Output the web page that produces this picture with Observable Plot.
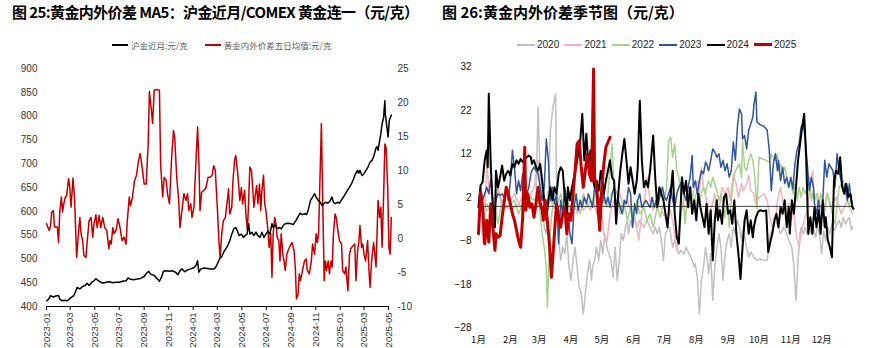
<!DOCTYPE html>
<html><head><meta charset="utf-8">
<script src="https://cdn.jsdelivr.net/npm/d3@7"></script>
<script src="https://cdn.jsdelivr.net/npm/@observablehq/plot@0.6"></script>
<style>
body{margin:0;background:#fff;}
#wrap{position:relative;width:886px;height:348px;background:#fff;overflow:hidden;}
.title{position:absolute;top:4px;font-family:"Noto Sans CJK SC","Noto Sans",sans-serif;font-weight:700;font-size:15px;line-height:16px;color:#000;white-space:nowrap;}
.leg{position:absolute;display:flex;align-items:center;white-space:nowrap;}
.leg .it{display:flex;align-items:center;}
.leg .sw{display:inline-block;height:2px;}
#leg1{left:112px;top:39px;font-family:"Noto Sans CJK SC",sans-serif;font-size:8.5px;color:#595959;}
#leg1 .sw{width:16px;margin-right:3px;}
#leg1 .it{margin-right:17px;}
#leg2{left:517px;top:39px;font-family:"Liberation Sans Narrow","Arial Narrow","Liberation Sans",sans-serif;font-size:10px;color:#222;}
#leg2 .it{width:47.4px;}
#leg2 .sw{width:18px;margin-right:2px;}
.chart{position:absolute;top:55px;}
.chart svg{font-family:"Liberation Sans Narrow","Arial Narrow","Liberation Sans",sans-serif;}
</style></head>
<body>
<div id="wrap">
  <div class="title" style="left:12px;letter-spacing:-0.6px">图 25:黄金内外价差 MA5：沪金近月/COMEX 黄金连一（元/克）</div>
  <div class="title" style="left:442px">图 26:黄金内外价差季节图（元/克）</div>
  <div id="leg1" class="leg"></div>
  <div id="leg2" class="leg"></div>
  <div id="c1" class="chart" style="left:0"></div>
  <div id="c2" class="chart" style="left:443px"></div>
</div>
<script>
// ---------- Left chart data: [days since 2023-01-01, value] ----------
const shfeGold = [[0,412],[5,415],[10,423],[17,420],[23,422],[30,423],[33,416],[38,412],[45,413],[52,412],[60,418],[68,423],[73,433],[76,440],[83,437],[90,442],[96,444],[101,449],[106,444],[113,451],[118,454],[123,458],[131,453],[140,449],[148,451],[156,452],[165,450],[173,451],[181,451],[189,453],[198,454],[203,460],[209,457],[218,456],[226,458],[234,459],[243,463],[249,470],[254,474],[259,468],[268,465],[276,458],[281,453],[286,461],[291,474],[298,475],[306,474],[314,475],[321,472],[327,467],[332,475],[337,479],[344,473],[351,477],[359,479],[367,482],[372,486],[376,496],[379,472],[384,479],[392,481],[401,480],[409,479],[417,479],[422,484],[427,493],[432,502],[436,505],[441,514],[446,521],[451,528],[456,538],[461,552],[466,563],[471,566],[475,559],[479,549],[485,552],[490,545],[494,549],[499,552],[503,574],[506,552],[511,556],[516,549],[521,556],[526,549],[531,545],[536,556],[541,545],[546,552],[551,559],[556,552],[561,574],[564,566],[569,572],[574,563],[579,566],[584,563],[589,570],[594,574],[601,575],[608,574],[614,572],[621,581],[626,589],[631,596],[636,593],[643,595],[647,593],[652,605],[657,623],[662,630],[667,637],[671,630],[676,623],[681,619],[686,612],[690,616],[695,619],[700,617],[705,621],[710,630],[714,619],[719,616],[724,619],[729,617],[734,624],[739,630],[744,637],[749,644],[754,651],[759,658],[764,668],[769,679],[774,686],[777,680],[780,686],[785,675],[790,679],[795,686],[800,693],[805,703],[810,707],[815,717],[819,731],[822,736],[825,728],[829,749],[832,763],[835,784],[839,798],[840,812],[842,832],[843,805],[847,777],[850,756],[853,791],[858,802]];
const spreadMA5 = [[0,2.2],[3,1.7],[7,1.2],[10,1.9],[13,3.9],[17,4.1],[20,1.7],[27,1.7],[30,-0.6],[33,3.9],[37,6.1],[40,3.9],[43,5.1],[47,6.1],[50,6.3],[55,8.8],[58,7.5],[61,4.6],[66,8.9],[70,5.6],[75,-2.8],[78,-0.3],[83,3.1],[86,0.7],[90,-0.3],[93,-2.5],[98,-2.8],[101,-0.6],[106,2.6],[111,3.1],[115,0.2],[118,2.1],[123,3.5],[126,1.6],[131,3.4],[135,1.6],[140,3.1],[145,1.6],[150,1.2],[155,-1.5],[158,-0.3],[161,-0.8],[165,1.6],[168,0.7],[173,1.2],[178,2.9],[183,1.6],[188,-0.3],[193,0.2],[198,-0.8],[201,2.6],[206,6.1],[209,4.8],[214,6.1],[219,8.5],[224,9.3],[229,11.5],[233,12.5],[238,10.5],[243,8.0],[248,8.0],[253,13.9],[256,21.6],[261,18.9],[264,16.9],[268,21.8],[273,21.9],[281,21.8],[284,11.0],[289,6.1],[293,9.0],[298,8.5],[301,6.6],[306,5.1],[311,11.5],[316,15.9],[319,14.9],[324,9.0],[329,5.6],[332,1.6],[337,4.1],[342,6.6],[347,5.6],[351,6.6],[354,4.1],[359,5.1],[362,3.1],[367,4.6],[372,11.5],[376,16.4],[379,11.5],[382,4.1],[386,6.8],[392,7.1],[397,7.5],[402,9.0],[407,9.0],[412,9.3],[416,10.7],[420,10.0],[425,4.6],[429,-0.3],[432,-2.8],[436,0.7],[440,2.6],[445,3.1],[450,5.6],[453,7.3],[456,3.6],[461,4.6],[464,8.5],[468,11.5],[471,12.2],[475,10.0],[478,8.0],[481,5.6],[485,7.5],[488,5.1],[493,7.1],[496,3.6],[500,1.2],[503,5.6],[506,10.5],[510,10.0],[513,7.5],[516,4.6],[520,6.6],[523,7.8],[526,5.1],[530,8.0],[533,4.1],[536,7.1],[540,9.3],[543,5.1],[546,4.1],[551,1.2],[554,-1.3],[558,0.7],[561,-5.7],[564,0.7],[568,3.1],[571,2.1],[574,0.2],[578,-0.3],[581,-3.3],[584,0.7],[588,-2.3],[591,-3.3],[594,-4.7],[598,-2.3],[601,-1.8],[606,-1.1],[611,-0.6],[616,-1.8],[619,-4.2],[622,-8.9],[626,-8.2],[629,-5.2],[632,-6.2],[637,-4.7],[642,-3.3],[646,-3.0],[649,-4.7],[654,-5.2],[659,-3.3],[662,-0.8],[667,-2.3],[671,0.7],[674,-0.6],[677,0.7],[681,10.0],[684,16.9],[687,6.6],[691,-6.2],[694,-3.3],[697,-4.7],[701,-3.3],[704,-5.2],[708,-3.3],[711,-4.2],[714,0.7],[718,3.6],[721,3.1],[724,1.6],[729,-0.3],[734,-0.8],[737,-4.7],[742,-5.2],[745,-4.2],[750,-7.7],[754,-2.3],[757,-1.5],[762,-1.1],[767,-0.8],[770,-6.2],[774,-1.8],[777,-0.6],[780,1.9],[784,-1.3],[787,-0.8],[790,-2.3],[794,-3.3],[799,-0.3],[802,-4.2],[805,-7.2],[809,-3.3],[814,-0.6],[817,-2.3],[820,-4.2],[825,5.6],[829,3.1],[832,4.6],[835,-1.3],[839,6.6],[842,13.9],[845,13.4],[849,7.5],[852,-1.3],[855,-2.3],[858,3.1]];
const leftTicks = [400,450,500,550,600,650,700,750,800,850,900];
const rightTicks = [-10,-5,0,5,10,15,20,25];
const legend1 = [["沪金近月:元/克","#000000"],["黄金内外价差五日均值:元/克","#c00000"]];

// ---------- Right chart data: [day of year, value] ----------
const s2020 = [[0,-0.2],[4,1.4],[8,-0.9],[12,-0.2],[16,0.6],[19,4.4],[23,-0.2],[27,-0.2],[31,-0.6],[35,-0.2],[39,0.6],[43,-0.2],[47,-0.2],[51,0.6],[54,-0.9],[56,2.9],[58,22.8],[60,6.7],[62,0.6],[64,-4.8],[66,-6.3],[68,4.4],[70,17.5],[72,22.0],[73,23.6],[75,25.9],[76,4.4],[78,-7.8],[80,-12.4],[82,-9.4],[84,-10.9],[86,-6.3],[88,-13.9],[90,-17.0],[92,-12.4],[94,-9.4],[96,-13.9],[98,-18.6],[100,-20.1],[102,-24.7],[104,-20.1],[106,-15.5],[108,-12.4],[110,-17.0],[111,-13.9],[113,-12.4],[115,-9.4],[117,-12.4],[119,-7.8],[121,-10.9],[123,-6.3],[125,-9.4],[127,-10.9],[129,-12.4],[131,-16.3],[133,-9.4],[135,-17.0],[137,-12.4],[139,-6.3],[141,-7.8],[143,-4.8],[145,-3.2],[146,-6.3],[148,-3.2],[150,-4.8],[152,-2.5],[154,-4.8],[157,-3.2],[161,-4.8],[164,-3.2],[167,-4.8],[170,-6.3],[172,-4.8],[174,-6.3],[176,-4.8],[178,-7.8],[180,-12.4],[182,-6.3],[184,-5.2],[186,-4.8],[187,-6.3],[189,-9.4],[191,-7.8],[193,-9.4],[195,-10.9],[197,-10.1],[200,-10.9],[202,-9.4],[205,-10.9],[208,-12.4],[210,-13.9],[211,-13.2],[213,-16.3],[215,-24.7],[217,-17.0],[219,-13.9],[221,-9.4],[222,-10.9],[224,-15.5],[226,-10.9],[228,-21.6],[230,-13.9],[232,-9.4],[234,-6.3],[236,-9.4],[238,-17.0],[240,-10.9],[242,-7.8],[244,-6.3],[246,-9.4],[248,-4.8],[250,-6.3],[252,-3.2],[254,-4.8],[256,-7.8],[257,-5.5],[259,-7.1],[261,-9.4],[263,-11.7],[265,-10.5],[268,-11.7],[271,-12.4],[274,-12.1],[278,-12.4],[281,-12.4],[284,-6.3],[287,-4.8],[289,-3.2],[292,-4.8],[294,-6.3],[297,-4.8],[300,-6.3],[302,-7.8],[305,-9.4],[307,-13.9],[309,-21.6],[311,-12.4],[313,-6.3],[314,-4.8],[316,-6.3],[318,-4.8],[320,-6.3],[322,-4.8],[324,-6.3],[326,-4.8],[328,-7.1],[330,-4.8],[332,-6.3],[334,-10.9],[336,-5.5],[338,-7.8],[340,-4.8],[342,-6.3],[344,-4.0],[346,-5.5],[348,-4.8],[349,-4.0],[351,-3.2],[353,-4.8],[355,-2.5],[357,-4.0],[359,-3.2],[361,-2.5],[363,-5.5],[364,-4.8]];
const s2021 = [[0,-4.8],[2,1.4],[4,-8.2],[6,-2.5],[8,10.6],[10,4.4],[12,2.9],[16,1.4],[19,3.6],[23,1.4],[27,-0.2],[31,1.4],[35,2.9],[39,0.6],[43,2.1],[47,-0.2],[51,2.9],[54,4.4],[58,10.6],[60,9.0],[62,4.4],[64,1.4],[67,-0.2],[70,1.4],[73,-0.2],[76,-0.9],[80,0.6],[83,-1.7],[86,1.4],[89,-0.2],[93,0.6],[96,-1.7],[99,1.4],[102,-0.9],[106,0.6],[109,-0.9],[112,1.4],[115,-1.7],[119,0.6],[122,-6.3],[125,-8.2],[128,-1.7],[132,1.4],[135,-0.2],[138,2.9],[141,-0.2],[145,1.4],[148,-0.9],[151,-2.5],[154,-4.8],[156,-7.8],[158,-3.2],[161,0.6],[164,6.7],[167,1.4],[170,-0.9],[174,1.4],[177,-0.2],[180,-1.7],[184,-3.2],[187,-0.9],[190,-4.8],[193,-10.1],[195,-6.3],[197,-2.5],[200,2.9],[202,1.4],[205,4.4],[208,0.6],[210,4.4],[213,5.9],[215,2.9],[217,9.0],[219,4.4],[222,1.4],[224,-2.5],[227,-0.2],[230,2.9],[232,-2.5],[235,0.6],[237,4.4],[240,2.9],[243,4.4],[245,1.4],[248,7.5],[250,5.9],[253,2.1],[256,5.2],[258,3.6],[261,5.2],[263,7.1],[265,3.6],[268,2.9],[270,0.6],[273,2.1],[276,2.5],[278,2.9],[281,1.4],[283,-1.7],[286,-4.8],[289,-3.2],[291,1.4],[294,4.4],[296,1.4],[299,-1.7],[302,0.6],[304,-3.2],[307,-0.9],[309,-6.3],[312,-9.4],[314,-6.3],[317,-3.2],[320,-0.9],[322,2.9],[325,8.2],[327,1.4],[330,2.9],[333,-0.2],[335,-1.7],[338,1.4],[340,2.9],[343,-0.2],[346,1.4],[348,2.1],[351,-0.2],[353,-1.7],[356,-0.2],[359,1.4],[361,-0.2],[364,-1.7]];
const s2022 = [[0,1.4],[4,-0.2],[8,0.6],[12,-1.7],[16,-0.2],[19,-4.0],[23,1.4],[27,-0.2],[31,0.6],[35,1.4],[39,-1.7],[43,0.6],[47,-0.2],[51,2.1],[54,1.4],[58,2.9],[60,-1.7],[62,-6.3],[64,-9.4],[66,-13.9],[67,-23.2],[69,-9.4],[71,-2.5],[73,1.4],[76,-0.2],[80,2.9],[83,-0.2],[86,1.4],[89,-0.9],[93,2.9],[96,0.6],[99,-1.7],[102,2.9],[106,-0.2],[109,1.4],[112,0.6],[115,4.4],[119,-0.2],[122,1.4],[125,-0.2],[128,9.0],[130,14.4],[132,4.4],[135,2.9],[138,-1.7],[141,1.4],[145,-3.2],[148,-0.2],[151,-2.5],[154,1.4],[157,-1.7],[161,-0.2],[164,-3.2],[167,-1.7],[170,-4.8],[174,-0.2],[177,-2.5],[180,0.6],[183,4.4],[185,15.1],[187,15.9],[189,11.3],[191,14.4],[193,8.2],[195,6.7],[197,2.9],[199,4.4],[201,-4.0],[203,1.4],[205,2.9],[207,4.4],[209,-0.2],[211,2.1],[213,3.6],[215,0.6],[217,2.9],[219,4.4],[221,2.9],[222,4.4],[224,5.9],[226,4.4],[228,6.7],[230,5.2],[232,3.6],[234,1.4],[236,2.9],[238,0.6],[240,-2.5],[242,1.4],[244,-4.8],[246,1.4],[248,5.9],[250,8.2],[252,9.0],[254,9.8],[256,6.7],[257,15.1],[259,9.0],[261,8.2],[263,10.6],[265,12.1],[267,10.6],[269,6.7],[271,-0.6],[273,11.3],[276,10.9],[280,10.6],[283,10.2],[285,12.1],[287,10.9],[289,10.6],[291,12.1],[292,8.2],[294,9.8],[296,7.5],[298,9.0],[300,6.7],[302,4.4],[304,5.9],[306,2.9],[308,5.2],[310,1.4],[312,4.4],[314,2.1],[316,4.4],[318,2.9],[320,4.4],[322,6.7],[324,1.4],[326,3.6],[327,1.4],[329,2.9],[331,-0.2],[333,2.9],[335,1.4],[337,-0.9],[339,2.9],[341,1.4],[343,-0.2],[345,-2.5],[347,-4.0],[349,0.6],[351,4.4],[353,5.2],[355,5.9],[357,2.9],[359,1.4],[361,-0.2],[362,1.4],[364,0.6]];
const s2023 = [[0,0.6],[2,4.4],[4,1.4],[6,2.9],[8,4.4],[10,2.9],[12,6.3],[14,0.6],[16,-1.7],[17,1.4],[19,2.9],[21,2.5],[23,2.9],[25,2.1],[27,4.4],[29,1.4],[31,5.9],[33,12.9],[35,9.0],[37,2.9],[39,5.9],[41,3.6],[43,7.5],[45,4.4],[47,2.9],[49,4.4],[51,7.5],[52,8.2],[54,9.0],[56,8.2],[58,7.5],[60,4.4],[62,1.4],[64,4.4],[66,15.5],[68,10.6],[70,1.4],[72,4.4],[74,0.6],[76,2.9],[78,-8.6],[80,1.4],[82,-1.7],[84,4.4],[86,1.4],[87,-1.7],[89,-6.3],[91,-8.6],[93,-0.2],[95,2.9],[97,-0.9],[99,1.4],[101,-0.2],[103,2.1],[105,0.6],[107,2.9],[109,1.4],[111,-0.2],[113,4.4],[115,2.9],[117,2.1],[119,-0.2],[121,1.4],[122,2.9],[124,0.6],[126,2.1],[128,-0.2],[130,2.9],[132,4.4],[134,0.6],[136,1.4],[138,-0.2],[140,-1.7],[142,1.4],[144,0.6],[146,4.4],[148,2.9],[150,-4.8],[152,0.6],[154,-1.7],[155,1.4],[157,2.9],[159,-0.2],[161,0.6],[163,1.4],[165,0.6],[167,-0.2],[169,2.1],[171,-0.2],[173,1.4],[175,0.6],[177,2.9],[179,4.4],[181,2.1],[183,1.4],[185,2.9],[187,4.4],[189,1.4],[191,-0.2],[193,2.9],[195,4.4],[197,5.2],[198,5.9],[200,2.9],[202,1.4],[204,4.4],[206,6.7],[208,11.7],[209,4.4],[211,5.9],[213,2.9],[215,5.9],[217,8.2],[219,7.5],[221,10.2],[222,9.8],[224,8.2],[226,10.6],[228,13.2],[230,12.5],[232,11.3],[234,12.1],[236,9.0],[238,10.6],[240,8.2],[242,9.8],[244,6.7],[246,8.2],[248,14.8],[250,10.6],[252,18.2],[254,22.4],[256,21.3],[257,15.5],[259,16.3],[261,13.2],[263,17.5],[265,19.0],[267,20.5],[268,23.2],[270,26.3],[271,19.4],[274,18.8],[278,18.4],[281,17.5],[283,12.9],[285,3.6],[287,9.8],[289,12.1],[291,8.2],[292,10.6],[294,5.9],[296,9.0],[298,5.2],[300,6.7],[302,4.4],[304,6.7],[306,4.0],[308,9.8],[310,12.9],[312,14.4],[314,18.2],[316,19.0],[318,15.9],[320,9.8],[322,3.6],[324,6.7],[326,4.4],[327,0.6],[329,-1.7],[331,1.4],[333,-4.8],[335,0.6],[337,10.6],[339,6.7],[341,9.8],[343,9.0],[345,8.2],[347,4.4],[349,12.1],[351,8.2],[353,5.9],[355,3.6],[357,5.2],[359,1.4],[361,5.2],[362,2.9],[364,-0.2]];
const s2024 = [[0,-0.2],[2,4.8],[4,5.6],[6,10.6],[8,12.9],[9,9.0],[10,25.9],[12,9.0],[14,-0.2],[16,-4.8],[17,8.2],[19,4.4],[21,6.7],[23,9.4],[25,5.9],[27,7.5],[29,8.2],[31,7.1],[33,9.8],[35,9.0],[37,10.6],[39,9.8],[41,10.9],[43,10.2],[45,10.9],[47,11.3],[49,11.7],[51,11.3],[52,9.8],[54,10.6],[56,9.0],[58,8.2],[60,9.8],[62,5.9],[64,1.4],[66,-3.2],[68,1.4],[70,4.4],[72,1.4],[74,4.4],[76,2.9],[78,7.5],[80,9.0],[82,8.2],[84,2.1],[86,-1.7],[87,4.4],[89,1.4],[91,4.4],[93,6.7],[95,9.0],[97,12.1],[99,15.1],[101,21.3],[103,10.6],[105,16.7],[107,9.0],[109,12.9],[111,6.7],[113,4.4],[115,5.9],[117,3.6],[119,8.2],[121,5.2],[122,2.9],[124,5.9],[126,8.2],[128,10.6],[130,6.7],[132,5.9],[134,-4.0],[136,2.9],[138,8.2],[140,12.1],[142,15.5],[144,10.6],[146,5.2],[148,9.0],[150,5.9],[152,2.9],[154,5.9],[155,9.0],[157,24.3],[159,10.6],[161,4.4],[163,5.9],[165,4.4],[167,8.2],[169,13.6],[170,16.3],[172,6.7],[174,-0.2],[176,4.4],[178,2.9],[180,1.4],[182,-1.7],[184,-4.8],[186,1.4],[187,2.9],[189,8.2],[191,-1.7],[193,-7.1],[195,-8.6],[197,1.4],[198,6.7],[200,2.9],[202,5.9],[204,-0.2],[206,4.4],[208,-1.7],[210,1.4],[212,-3.2],[214,2.9],[216,-0.2],[218,-2.5],[220,-4.8],[222,0.6],[224,-6.3],[226,-0.9],[228,-12.4],[230,-3.2],[232,1.4],[233,-3.2],[235,-0.9],[237,-4.0],[239,2.1],[241,2.9],[243,-1.7],[245,-0.9],[247,-4.0],[249,1.4],[251,-6.3],[253,-10.9],[255,-16.7],[257,-9.4],[259,-3.2],[261,-0.9],[263,-6.3],[265,-3.2],[267,-7.1],[268,-4.8],[270,-2.5],[272,-1.3],[274,-0.9],[278,-1.1],[280,-0.9],[282,-10.5],[284,-8.2],[286,-6.3],[288,-3.2],[290,-1.7],[292,-4.8],[294,-0.2],[296,-1.7],[298,1.4],[300,-4.8],[302,-0.2],[303,-6.3],[305,1.4],[307,-1.7],[309,4.4],[311,10.6],[313,14.4],[315,18.2],[317,21.3],[319,10.6],[321,-6.3],[323,-2.5],[325,-6.3],[327,-0.2],[329,-4.8],[331,-0.9],[333,-6.3],[335,1.4],[337,-4.8],[338,-2.5],[340,-7.8],[342,-9.4],[344,-11.7],[346,5.9],[348,8.2],[350,7.5],[352,11.3],[354,4.4],[356,2.9],[358,5.2],[360,2.1],[362,2.9],[364,-0.2],[365,-0.6]];
const s2025 = [[0,-6.3],[2,3.3],[4,-0.2],[6,-8.6],[8,-3.2],[10,-8.2],[12,0.6],[14,-4.8],[16,-10.1],[17,-6.3],[19,-7.1],[21,-6.7],[23,-2.5],[25,1.0],[27,4.4],[29,2.9],[31,0.6],[33,-1.7],[35,-3.2],[37,-5.5],[39,-7.8],[41,-9.4],[43,-2.5],[45,13.6],[46,-0.9],[48,2.9],[50,-0.2],[52,0.6],[54,-2.5],[56,0.6],[58,4.4],[60,0.6],[62,-0.9],[63,-3.2],[65,1.4],[67,-3.2],[69,-8.6],[71,-16.3],[73,-9.4],[75,-2.5],[76,0.6],[78,-2.5],[80,-4.8],[82,-1.7],[84,-0.2],[86,-6.3],[88,-1.7],[90,-3.2],[92,2.9],[94,8.2],[96,14.4],[98,15.1],[100,9.0],[102,4.4],[104,8.2],[106,12.1],[108,7.5],[110,5.9],[111,18.2],[112,31.6],[113,6.7],[115,4.4],[116,0.6],[118,-5.5],[120,4.4],[122,9.8],[124,13.6],[128,15.9]];
const years = ["2020","2021","2022","2023","2024","2025"];
const yearColors = ["#c0c0c0","#f4b4b7","#a9d18e","#2f5597","#000000","#c00000"];
const yearWidths = [1.5,1.5,1.5,1.5,2,3];
const monthLabels = ["1月","2月","3月","4月","5月","6月","7月","8月","9月","10月","11月","12月"];
const monthStartDays = [0,31,59,90,120,151,181,212,243,273,304,334];
const seasonTicks = [-28,-18,-8,2,12,22,32];

// ---------- helpers ----------
const base = Date.UTC(2023,0,1);
const toDate = d => new Date(base + d*86400000);
// right axis (-10..25) mapped onto left axis (400..900)
const toLeft = v => 400 + (v + 10) * 500 / 35;
const fromLeft = y => Math.round((y - 400) * 35 / 500 - 10);

// legends
const leg1 = document.getElementById("leg1");
legend1.forEach(([t,c]) => {
  const it = document.createElement("span"); it.className = "it";
  it.innerHTML = `<span class="sw" style="background:${c}"></span><span>${t}</span>`;
  leg1.appendChild(it);
});
const leg2 = document.getElementById("leg2");
years.forEach((y,i) => {
  const it = document.createElement("span"); it.className = "it";
  it.innerHTML = `<span class="sw" style="background:${yearColors[i]};height:${i===5?3:2}px"></span><span>${y}</span>`;
  leg2.appendChild(it);
});

// ---------- left chart ----------
const monthTicks = d3.utcMonth.every(2).range(new Date(Date.UTC(2023,0,1)), new Date(Date.UTC(2025,4,2)));
const c1 = Plot.plot({
  width: 443, height: 293,
  marginLeft: 46, marginRight: 55, marginTop: 13, marginBottom: 42,
  style: {fontSize: "10px", color: "#333", background: "transparent"},
  x: {type: "utc", domain: [new Date(Date.UTC(2023,0,1)), new Date(Date.UTC(2025,4,1))]},
  y: {domain: [400, 900]},
  marks: [
    Plot.axisY({ticks: leftTicks, tickSize: 0, tickPadding: 9, label: null}),
    Plot.axisY({anchor: "right", ticks: rightTicks.map(toLeft), tickFormat: fromLeft, tickSize: 0, tickPadding: 9, label: null, textAnchor: "start"}),
    Plot.axisX({ticks: monthTicks, tickFormat: d3.utcFormat("%Y-%m"), tickRotate: -90, tickSize: 4, tickPadding: 2, label: null, fontSize: 9.5, stroke: "#000"}),
    Plot.ruleY([400], {stroke: "#000", strokeWidth: 1}),
    Plot.line(spreadMA5, {x: d => toDate(d[0]), y: d => toLeft(d[1]), stroke: "#c00000", strokeWidth: 1.5}),
    Plot.line(shfeGold, {x: d => toDate(d[0]), y: d => d[1], stroke: "#000", strokeWidth: 1.5})
  ]
});
document.getElementById("c1").appendChild(c1);

// ---------- right chart ----------
const seriesList = [s2020, s2021, s2022, s2023, s2024, s2025];
const lineMarks = seriesList.map((s,i) => Plot.line(s, {x: d => d[0], y: d => d[1], stroke: yearColors[i], strokeWidth: yearWidths[i]}));
const c2 = Plot.plot({
  width: 443, height: 293,
  marginLeft: 35, marginRight: 33, marginTop: 11.7, marginBottom: 20.3,
  style: {fontSize: "10px", color: "#111", background: "transparent"},
  x: {domain: [0, 365]},
  y: {domain: [-28, 32]},
  marks: [
    Plot.axisY({ticks: seasonTicks, tickSize: 0, tickPadding: 7, label: null}),
    Plot.axisX({ticks: monthStartDays, tickFormat: (d) => monthLabels[monthStartDays.indexOf(d)], tickSize: 0, tickPadding: 8, label: null, fontFamily: "Noto Sans CJK SC", fontSize: 9.5}),
    ...lineMarks.slice(0,4),
    Plot.ruleY([0], {stroke: "#404040", strokeWidth: 1}),
    ...lineMarks.slice(4)
  ]
});
document.getElementById("c2").appendChild(c2);
</script>
</body></html>
